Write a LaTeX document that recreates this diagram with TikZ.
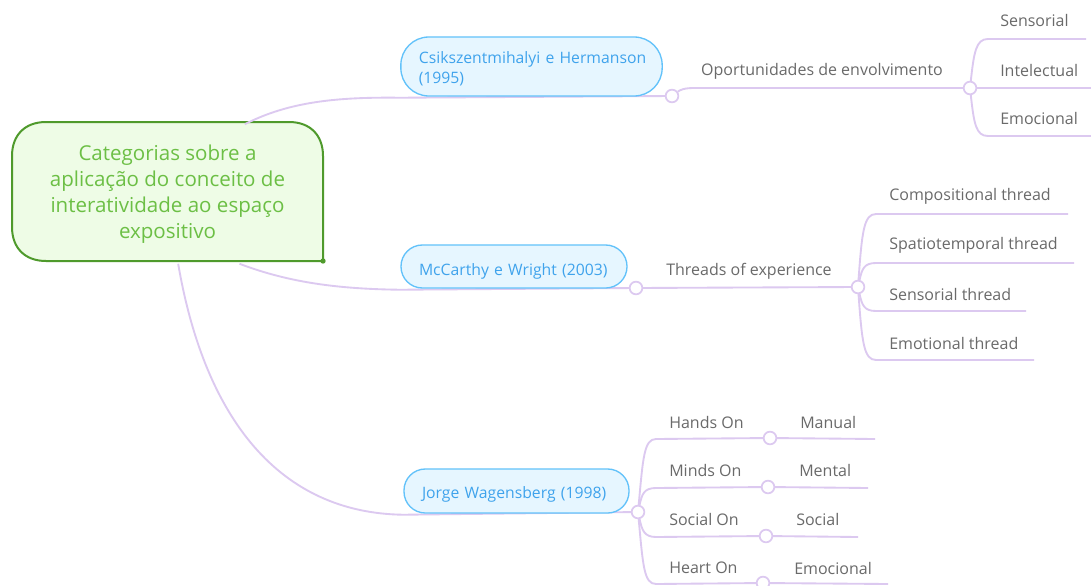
\documentclass[tikz,border=0pt]{standalone}
\usepackage{fontspec}
\setmainfont{Open Sans}
\definecolor{connc}{HTML}{DCC9F0}
\definecolor{gtxt}{HTML}{6A6A6A}
\definecolor{bfill}{HTML}{E6F6FF}
\definecolor{bdraw}{HTML}{62C2FA}
\definecolor{btxt}{HTML}{3FA3EC}
\definecolor{rfill}{HTML}{EEFCE6}
\definecolor{rdraw}{HTML}{4F9A2C}
\definecolor{rtxt}{HTML}{6CBF45}
\pgfdeclarelayer{background}
\pgfsetlayers{background,main}
\begin{document}
\begin{tikzpicture}[x=0.75pt,y=-0.75pt,
  conn/.style={draw=connc, line width=1.4pt},
  dot/.style={circle, draw=connc, fill=white, line width=1.3pt, minimum size=9.5pt, inner sep=0pt},
  lbl/.style={anchor=west, text=gtxt, font=\fontsize{12}{14}\selectfont, inner sep=0pt},
  pill/.style={rectangle, draw=bdraw, fill=bfill, line width=1pt, text=btxt,
    font=\fontsize{11.8}{15}\selectfont, align=left, inner xsep=13.5pt, inner ysep=0pt},
  rootshape/.style={draw=rdraw, fill=rfill, line width=1.5pt}
]
\useasboundingbox (0,0) rectangle (1091,585);

% root
\node[text=rtxt, font=\fontsize{15.4}{19.5}\selectfont, align=center,
      minimum width=233.25pt, minimum height=104.25pt, inner sep=0pt]
      (root) at (167.5,194) {Categorias sobre a\\aplicação do conceito de\\interatividade ao espaço\\expositivo};

% first level
\node[pill, rounded corners=21pt, minimum height=44.25pt, text width=169pt] (csik) at (531.5,66.5)
  {\raisebox{-5pt}[0pt][0pt]{\begin{tabular}{@{}l@{}}Csikszentmihalyi e Hermanson\\(1995)\end{tabular}}};
\node[pill, rounded corners=16pt, minimum height=32.25pt, text width=142.5pt,
      text height=15pt, text depth=2pt] (mcc) at (514,266.5)
  {\mbox{McCarthy e Wright (2003)}};
\node[pill, rounded corners=16pt, minimum height=33pt, text width=141.75pt,
      text height=13pt, text depth=2pt] (jor) at (516.5,491)
  {\mbox{Jorge Wagensberg (1998)}};

% junction dots
\node[dot] (c1) at (672,96) {};
\node[dot] (c1b) at (970,88) {};
\node[dot] (c2) at (636,288) {};
\node[dot] (c2b) at (858,287) {};
\node[dot] (c3) at (638,512) {};
\node[dot] (m1) at (770,438) {};
\node[dot] (m2) at (768,487) {};
\node[dot] (m3) at (766,536) {};
\node[dot] (m4) at (763,583) {};

% labels
\node[lbl, anchor=center] (oport) at (822,71) {Oportunidades de envolvimento};
\node[lbl] (sens) at (1000,21) {Sensorial};
\node[lbl] (intel) at (1000,70) {Intelectual};
\node[lbl] (emoc) at (1000,118) {Emocional};

\node[lbl, anchor=center] (thr) at (749,271) {Threads of experience};
\node[lbl] (comp) at (889,196) {Compositional thread};
\node[lbl] (spat) at (889,245) {Spatiotemporal thread};
\node[lbl] (senst) at (889,294) {Sensorial thread};
\node[lbl] (emot) at (889,343) {Emotional thread};

\node[lbl] (hands) at (669,422) {Hands On};
\node[lbl] (minds) at (669,470) {Minds On};
\node[lbl] (social) at (669,519) {Social On};
\node[lbl] (heart) at (669,568) {Heart On};
\node[lbl] (manual) at (800,422) {Manual};
\node[lbl] (mental) at (799,470) {Mental};
\node[lbl] (soc) at (796,519) {Social};
\node[lbl] (emo2) at (794,568) {Emocional};

% line end coordinates
\coordinate (e11) at (1086,39);
\coordinate (e12) at (1091,88);
\coordinate (e13) at (1091,136);
\coordinate (e21) at (1068,214);
\coordinate (e22) at (1074,263);
\coordinate (e23) at (1026,311);
\coordinate (e24) at (1034,360);
\coordinate (e31) at (875,439);
\coordinate (e32) at (868,488);
\coordinate (e33) at (858,537);
\coordinate (e34) at (888,584);

\begin{pgfonlayer}{background}
\fill[white] (0,0) rectangle (1091,585);
% root shape
\path[rootshape] (323,261) -- (46,261) .. controls (25,261) and (12,248) .. (12,227)
  -- (12,156) .. controls (12,135) and (25,122) .. (46,122) -- (289,122)
  .. controls (310,122) and (323,135) .. (323,156) -- cycle;
% connectors from root
\draw[conn] ([xshift=58pt]root.north) .. controls (290,101) and (340,97) .. ([yshift=-0.8pt]csik.south west) -- (c1);
\draw[conn] ([xshift=54pt]root.south) .. controls (290,283) and (340,289) .. ([yshift=-0.8pt]mcc.south west) -- (c2);
\draw[conn] ([xshift=8pt]root.south) .. controls (205,420) and (280,513) .. ([yshift=-0.8pt]jor.south west) -- (c3);
% level 2
\draw[conn] (c1) .. controls +(8,-6) and +(-10,0) .. (694,88) -- (c1b);
\draw[conn] (c2) -- (c2b);
% Csik children
\draw[conn] (c1b) .. controls +(4,-36) and +(-12,0) .. (988,39) -- (e11);
\draw[conn] (c1b) -- (e12);
\draw[conn] (c1b) .. controls +(4,36) and +(-12,0) .. (988,136) -- (e13);
% Threads children
\draw[conn] (c2b) .. controls +(4,-56) and +(-12,0) .. (876,214) -- (e21);
\draw[conn] (c2b) .. controls +(4,-18) and +(-12,0) .. (876,263) -- (e22);
\draw[conn] (c2b) .. controls +(4,18) and +(-12,0) .. (876,311) -- (e23);
\draw[conn] (c2b) .. controls +(4,56) and +(-12,0) .. (876,360) -- (e24);
% Jorge children
\draw[conn] (c3) .. controls +(5,-54) and +(-12,0) .. (656,439) -- (m1) -- (e31);
\draw[conn] (c3) .. controls +(4,-18) and +(-12,0) .. (656,488) -- (m2) -- (e32);
\draw[conn] (c3) .. controls +(4,18) and +(-12,0) .. (656,537) -- (m3) -- (e33);
\draw[conn] (c3) .. controls +(5,54) and +(-12,0) .. (656,584) -- (m4) -- (e34);
\end{pgfonlayer}
\fill[rdraw] (323,261) circle (2pt);
\end{tikzpicture}
\end{document}
